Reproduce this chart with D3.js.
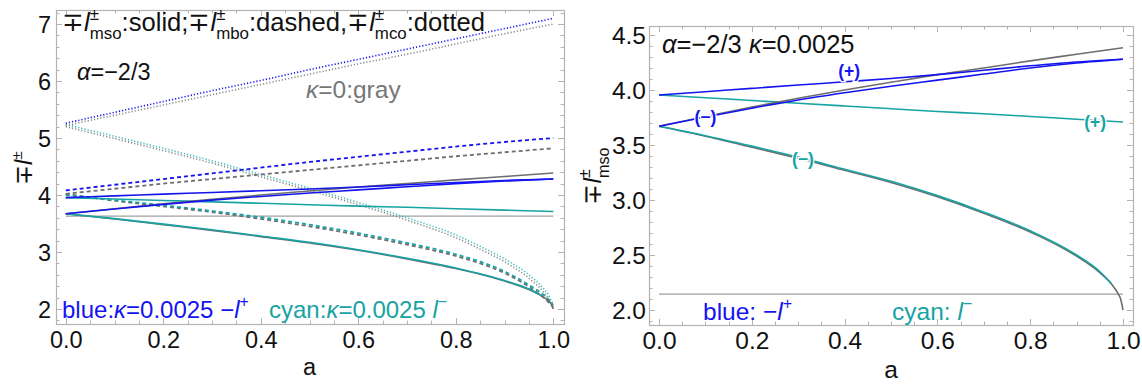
<!DOCTYPE html>
<html>
<head>
<meta charset="utf-8">
<script src="https://cdn.jsdelivr.net/npm/d3@7"></script>
<style>
  html, body { margin: 0; padding: 0; background: #fff; }
  svg { display: block; font-family: "Liberation Sans", Arial, sans-serif; }
</style>
</head>
<body>
<svg id="chart" width="1142" height="385"></svg>
<script>
// ---- spin parameter grids ----
const aGrid  = [0, 0.1, 0.2, 0.3, 0.4, 0.5, 0.6, 0.7, 0.8, 0.9, 1.0];
const aCurve = [0, 0.1, 0.2, 0.3, 0.4, 0.5, 0.6, 0.7, 0.8, 0.85, 0.9, 0.95, 0.98, 0.99, 0.995, 1.0];
const aCyanLow = [0, 0.1, 0.2, 0.3, 0.4, 0.5, 0.6, 0.7, 0.8, 0.9, 0.95, 0.975];

// ---- ∓l±_mso (solid), kappa = 0.0025 ----
const msoBluePlus  = [3.955, 3.985, 4.015, 4.045, 4.075, 4.105, 4.14, 4.18, 4.22, 4.255, 4.28];
const msoBlueMinus = [3.67, 3.755, 3.835, 3.91, 3.975, 4.035, 4.09, 4.145, 4.2, 4.245, 4.28];
const msoCyanPlus  = [3.955, 3.93, 3.905, 3.88, 3.855, 3.83, 3.805, 3.785, 3.76, 3.735, 3.71];
const msoCyanMinus = [3.67, 3.585, 3.49, 3.39, 3.28, 3.17, 3.04, 2.89, 2.72, 2.5, 2.35, 2.24];
// ---- ∓l±_mso, kappa = 0 (gray) ----
const msoGrayUp  = [3.67, 3.76, 3.845, 3.925, 4.0, 4.07, 4.14, 4.2, 4.265, 4.325, 4.385];
const msoGrayLow = [3.67, 3.58, 3.48, 3.38, 3.27, 3.16, 3.03, 2.88, 2.71, 2.61, 2.49, 2.34, 2.21, 2.145, 2.1, 2.0];

// ---- ∓l±_mbo (dashed) ----
const mboBlue     = [4.08, 4.18, 4.28, 4.38, 4.48, 4.58, 4.67, 4.76, 4.85, 4.93, 5.0];
const mboGrayUp   = [4.02, 4.11, 4.2, 4.28, 4.36, 4.44, 4.52, 4.6, 4.68, 4.75, 4.82];
const mboCyanLow  = [4.0, 3.91, 3.82, 3.72, 3.61, 3.48, 3.33, 3.16, 2.96, 2.83, 2.66, 2.42, 2.25, 2.17, 2.12, 2.07];
const mboGrayLow  = [4.02, 3.9, 3.8, 3.7, 3.58, 3.45, 3.3, 3.13, 2.93, 2.8, 2.63, 2.39, 2.2, 2.12, 2.08, 2.03];

// ---- ∓l±_mco (dotted) ----
const mcoBlue    = [5.26, 5.45, 5.64, 5.83, 6.01, 6.2, 6.38, 6.56, 6.74, 6.92, 7.1];
const mcoGrayUp  = [5.22, 5.4, 5.58, 5.76, 5.94, 6.12, 6.3, 6.47, 6.65, 6.83, 7.0];
const mcoCyanLow = [5.24, 5.03, 4.82, 4.6, 4.36, 4.12, 3.87, 3.6, 3.3, 3.1, 2.88, 2.6, 2.36, 2.25, 2.16, 2.08];
const mcoGrayLow = [5.2, 4.99, 4.78, 4.56, 4.32, 4.08, 3.83, 3.56, 3.25, 3.05, 2.83, 2.54, 2.3, 2.18, 2.1, 2.03];

// ---- reference levels (thin horizontal lines) ----
const leftLevel = 3.63;
const rightLevel = 2.145;

// ---- tick values ----
const xTicks = [0, 0.2, 0.4, 0.6, 0.8, 1.0];
const xTickLabels = ["0.0", "0.2", "0.4", "0.6", "0.8", "1.0"];
const leftYTicks = [2, 3, 4, 5, 6, 7];
const leftYTickLabels = ["2", "3", "4", "5", "6", "7"];
const rightYTicks = [2.0, 2.5, 3.0, 3.5, 4.0, 4.5];
const rightYTickLabels = ["2.0", "2.5", "3.0", "3.5", "4.0", "4.5"];

// ---- branch labels in the right panel ----
const rightBranchLabels = [
  { a: 0.41, v: 4.17, t: "(+)", c: "blue" },
  { a: 0.10, v: 3.76, t: "(\u2212)", c: "blue" },
  { a: 0.94, v: 3.71, t: "(+)", c: "cyan" },
  { a: 0.31, v: 3.37, t: "(\u2212)", c: "cyan" }
];

const COL = {
  blue: "#1414f0",
  cyan: "#17a3a3",
  cyanDot: "#3cbcbc",
  gray: "#6e6e6e",
  grayDot: "#8a8a8a",
  level: "#a0a0a0",
  frame: "#b3b3b3",
  text: "#111"
};
const FONT_L = 23.5;
const FONT_R = 24.5;

const svg = d3.select("#chart");

// Rich text with italic pieces and stacked super/subscripts
function rich(parent, x, y, parts, opts) {
  const size = opts.size;
  const t = parent.append("text")
    .attr("x", x).attr("y", y)
    .attr("font-size", size)
    .attr("fill", opts.fill || COL.text);
  if (opts.anchor) t.attr("text-anchor", opts.anchor);
  if (opts.transform) t.attr("transform", opts.transform);
  let off = 0;       // current baseline shift (positive = down)
  let pendDx = 0;    // extra advance owed after a stacked script
  const small = size * 0.66;
  const supOff = -size * 0.44, subOff = size * 0.32;
  parts.forEach(p => {
    if (typeof p === "string" || p.i) {
      const s = t.append("tspan").text(typeof p === "string" ? p : p.i)
        .attr("dy", 0 - off);
      if (pendDx) s.attr("dx", pendDx);
      if (p.i) s.attr("font-style", "italic");
      off = 0; pendDx = 0;
    } else {
      let wSup = 0, wSub = 0;
      if (p.sup) {
        const s = t.append("tspan").text(p.sup)
          .attr("font-size", small).attr("dy", supOff - off);
        if (pendDx) s.attr("dx", pendDx);
        off = supOff; pendDx = 0;
        wSup = s.node().getComputedTextLength();
      }
      if (p.sub) {
        const s = t.append("tspan").text(p.sub)
          .attr("font-size", small).attr("dy", subOff - off)
          .attr("dx", p.sup ? -wSup : pendDx);
        off = subOff;
        wSub = s.node().getComputedTextLength();
        pendDx = p.sup && wSup > wSub ? wSup - wSub : 0;
      }
    }
  });
  return t;
}

function panel(cfg) {
  const g = svg.append("g");
  const x = d3.scaleLinear().domain(cfg.xDomain).range([cfg.left, cfg.right]);
  const y = d3.scaleLinear().domain(cfg.yDomain).range([cfg.bottom, cfg.top]);

  const clipId = "clip" + cfg.id;
  svg.append("clipPath").attr("id", clipId).append("rect")
    .attr("x", cfg.left).attr("y", cfg.top)
    .attr("width", cfg.right - cfg.left).attr("height", cfg.bottom - cfg.top);

  // tick labels on left/bottom; tick marks drawn inward on all four sides
  const axB = d3.axisBottom(x).tickValues(xTicks).tickFormat((d, i) => xTickLabels[i]).tickSize(0).tickPadding(0);
  const axL = d3.axisLeft(y).tickValues(cfg.yTicks).tickFormat((d, i) => cfg.yTickLabels[i]).tickSize(0).tickPadding(0);

  const gB = g.append("g").attr("transform", `translate(0,${cfg.bottom})`).call(axB);
  gB.select(".domain").remove();
  gB.selectAll("text").attr("font-size", cfg.font).attr("fill", COL.text)
    .attr("font-family", "Liberation Sans, Arial, sans-serif").attr("dy", 0).attr("y", 24);

  const gL = g.append("g").attr("transform", `translate(${cfg.left},0)`).call(axL);
  gL.select(".domain").remove();
  gL.selectAll("text").attr("font-size", cfg.font).attr("fill", COL.text)
    .attr("font-family", "Liberation Sans, Arial, sans-serif").attr("x", cfg.yLabelX - cfg.left).attr("dy", "0.36em");

  const minorX = d3.range(0, 1.0001, 0.05);
  const minorY = d3.range(cfg.yMinorStart, cfg.yDomain[1], cfg.yMinorStep);
  const tickG = g.append("g").attr("stroke", COL.frame).attr("stroke-width", 1);
  const isMajorX = v => xTicks.some(t => Math.abs(t - v) < 1e-6);
  const isMajorY = v => cfg.yTicks.some(t => Math.abs(t - v) < 1e-6);
  minorX.forEach(v => {
    const len = isMajorX(v) ? 6 : 3.5;
    const px = Math.round(x(v)) + 0.5;
    tickG.append("line").attr("x1", px).attr("x2", px).attr("y1", cfg.bottom).attr("y2", cfg.bottom - len);
    tickG.append("line").attr("x1", px).attr("x2", px).attr("y1", cfg.top).attr("y2", cfg.top + len);
  });
  minorY.forEach(v => {
    const len = isMajorY(v) ? 6 : 3.5;
    const py = Math.round(y(v)) + 0.5;
    tickG.append("line").attr("y1", py).attr("y2", py).attr("x1", cfg.left).attr("x2", cfg.left + len);
    tickG.append("line").attr("y1", py).attr("y2", py).attr("x1", cfg.right).attr("x2", cfg.right - len);
  });

  g.append("rect")
    .attr("x", cfg.left + 0.5).attr("y", cfg.top + 0.5)
    .attr("width", cfg.right - cfg.left).attr("height", cfg.bottom - cfg.top)
    .attr("fill", "none").attr("stroke", COL.frame).attr("stroke-width", 1.2);

  const plot = g.append("g").attr("clip-path", `url(#${clipId})`);
  const line = d3.line().x(d => x(d[0])).y(d => y(d[1])).curve(d3.curveMonotoneX);

  function draw(as, vs, color, style) {
    const data = as.map((a, i) => [a, vs[i]]);
    const p = plot.append("path").datum(data).attr("d", line)
      .attr("fill", "none").attr("stroke", color)
      .attr("stroke-linejoin", "round");
    if (style === "dashed") p.attr("stroke-width", 1.8).attr("stroke-dasharray", "4,3");
    else if (style === "dotted") p.attr("stroke-width", 1.6).attr("stroke-dasharray", "1.2,2");
    else if (style === "thin") p.attr("stroke-width", 1.1);
    else p.attr("stroke-width", 1.6);
    return p;
  }
  return { g, x, y, plot, draw };
}

// ================= left panel: all three orbit families =================
const L = panel({
  id: "L", left: 56, right: 564, top: 10, bottom: 324,
  xDomain: [-0.02, 1.022], yDomain: [1.737, 7.246],
  yTicks: leftYTicks, yTickLabels: leftYTickLabels,
  yMinorStart: 1.8, yMinorStep: 0.2, yLabelX: 51, font: FONT_L
});
L.draw([0, 1], [leftLevel, leftLevel], COL.level, "thin");
// dotted (mco)
L.draw(aCurve, mcoGrayLow, COL.grayDot, "dotted");
L.draw(aCurve, mcoCyanLow, COL.cyanDot, "dotted");
L.draw(aGrid, mcoGrayUp, COL.grayDot, "dotted");
L.draw(aGrid, mcoBlue, COL.blue, "dotted");
// dashed (mbo)
L.draw(aCurve, mboGrayLow, COL.gray, "dashed");
L.draw(aCurve, mboCyanLow, COL.cyan, "dashed");
L.draw(aGrid, mboGrayUp, COL.gray, "dashed");
L.draw(aGrid, mboBlue, COL.blue, "dashed");
// solid (mso)
L.draw(aCurve, msoGrayLow, COL.gray, "solid");
L.draw(aCyanLow, msoCyanMinus, COL.cyan, "solid");
L.draw(aGrid, msoCyanPlus, COL.cyan, "solid");
L.draw(aGrid, msoGrayUp, COL.gray, "solid");
L.draw(aGrid, msoBlueMinus, COL.blue, "solid");
L.draw(aGrid, msoBluePlus, COL.blue, "solid");

rich(svg, 62, 31, [
  "\u2213", { i: "l" }, { sup: "\u00b1", sub: "mso" }, ":solid;",
  "\u2213", { i: "l" }, { sup: "\u00b1", sub: "mbo" }, ":dashed,",
  "\u2213", { i: "l" }, { sup: "\u00b1", sub: "mco" }, ":dotted"
], { size: 25.6 });
rich(svg, 77, 80, [{ i: "\u03b1" }, "=\u22122/3"], { size: FONT_L });
rich(svg, 306, 98, [{ i: "\u03ba" }, "=0:gray"], { size: 24.5, fill: "#777" });
rich(svg, 62, 318, ["blue:", { i: "\u03ba" }, "=0.0025 \u2212", { i: "l" }, { sup: "+" }], { size: 24, fill: COL.blue });
rich(svg, 269, 318, ["cyan:", { i: "\u03ba" }, "=0.0025 ", { i: "l" }, { sup: "\u2212" }], { size: 24, fill: COL.cyan });
rich(svg, 32, 168, ["\u2213", { i: "l" }, { sup: "\u00b1" }], { size: FONT_L, anchor: "middle", transform: "rotate(-90 32 168)" });
svg.append("text").attr("x", L.x(0.5)).attr("y", 375).attr("text-anchor", "middle")
  .attr("font-size", FONT_L).attr("fill", COL.text).text("a");

// ================= right panel: marginally stable orbits =================
const R = panel({
  id: "R", left: 649, right: 1133, top: 26, bottom: 325,
  xDomain: [-0.0216, 1.0216], yDomain: [1.864, 4.582],
  yTicks: rightYTicks, yTickLabels: rightYTickLabels,
  yMinorStart: 1.9, yMinorStep: 0.1, yLabelX: 646, font: FONT_R
});
R.draw([0, 1], [rightLevel, rightLevel], COL.level, "thin");
R.draw(aCurve, msoGrayLow, COL.gray, "solid");
R.draw(aCyanLow, msoCyanMinus, COL.cyan, "solid");
R.draw(aGrid, msoCyanPlus, COL.cyan, "solid");
R.draw(aGrid, msoGrayUp, COL.gray, "solid");
R.draw(aGrid, msoBlueMinus, COL.blue, "solid");
R.draw(aGrid, msoBluePlus, COL.blue, "solid");

// branch labels sit on their curves with a thin white halo
R.g.selectAll("text.branch").data(rightBranchLabels).join("text")
  .attr("class", "branch")
  .attr("x", d => R.x(d.a)).attr("y", d => R.y(d.v))
  .attr("dy", "0.35em").attr("text-anchor", "middle")
  .attr("font-size", 17.5).attr("font-weight", "bold")
  .attr("stroke", "#fff").attr("stroke-width", 2.5).attr("paint-order", "stroke")
  .attr("fill", d => COL[d.c]).text(d => d.t);

rich(svg, 662, 53, [{ i: "\u03b1" }, "=\u22122/3 ", { i: "\u03ba" }, "=0.0025"], { size: 25.5 });
rich(svg, 703, 320, ["blue: \u2212", { i: "l" }, { sup: "+" }], { size: FONT_R, fill: COL.blue });
rich(svg, 892, 320, ["cyan: ", { i: "l" }, { sup: "\u2212" }], { size: FONT_R, fill: COL.cyan });
rich(svg, 601, 176, ["\u2213", { i: "l" }, { sup: "\u00b1", sub: "mso" }], { size: FONT_R, anchor: "middle", transform: "rotate(-90 601 176)" });
svg.append("text").attr("x", R.x(0.5)).attr("y", 378).attr("text-anchor", "middle")
  .attr("font-size", FONT_R).attr("fill", COL.text).text("a");
</script>
</body>
</html>
